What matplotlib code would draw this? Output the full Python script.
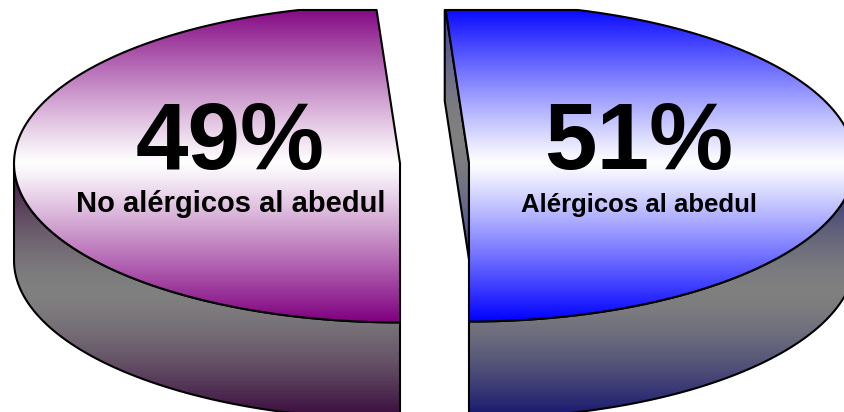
import numpy as np
import matplotlib
matplotlib.use("Agg")
import matplotlib.pyplot as plt
from matplotlib.patches import Polygon
from matplotlib import font_manager

# ---- data -------------------------------------------------------------
labels = ["No alérgicos al abedul", "Alérgicos al abedul"]
shares = [49, 51]
face_colors = ["#800080", "#0000ff"]     # top face gradient edge colour
wall_colors = ["#38063c", "#141470"]     # side wall gradient edge colour
cut_colors = ["#38063c", "#3a3c96"]      # radial cut face gradient edge colour
pct_sizes = [68, 68]
label_sizes = [21, 18.5]

# ---- layout (pixel units) --------------------------------------------
W, H = 845, 412
CX, CY = 434.5, 163.0      # pie centre
RX, RY = 386.0, 159.0      # projected radii of the top ellipse
DEPTH = 97.0               # projected thickness
EXPLODE = 34.5             # slice separation
START = 180.0              # first slice starts at 6 o'clock, clockwise
CLIP_TOP = 10.0            # plot-area top edge

installed = {f.name for f in font_manager.fontManager.ttflist}
narrow = next((n for n in ["Liberation Sans Narrow", "DejaVu Sans Condensed",
                           "Liberation Sans"] if n in installed), "DejaVu Sans")
pct_families = ["Liberation Sans", narrow]
label_families = ["Liberation Sans", "Liberation Sans"]

fig = plt.figure(figsize=(W / 100, H / 100), dpi=100)
ax = fig.add_axes([0, 0, 1, 1])
ax.set_xlim(0, W)
ax.set_ylim(H, 0)
ax.axis("off")


def rim(cx, cy, a0, a1, n=240, dy=0.0):
    t = np.radians(np.linspace(a0, a1, n))
    return np.column_stack([cx + RX * np.sin(t), cy + dy - RY * np.cos(t)])


def clip_top(pts, ytop=CLIP_TOP):
    out = []
    n = len(pts)
    for i in range(n):
        p, q = pts[i], pts[(i + 1) % n]
        pin, qin = p[1] >= ytop, q[1] >= ytop
        if pin:
            out.append(p)
        if pin != qin:
            t = (ytop - p[1]) / (q[1] - p[1])
            out.append(p + t * (q - p))
    return np.array(out)


def hex_rgb(c):
    return np.array(matplotlib.colors.to_rgb(c))


def gradient_shape(pts, edge, center, y0, y1, power, z):
    """Fill a polygon with an Excel-style 'from centre' vertical gradient."""
    ys = np.linspace(y0, y1, 256)
    mid, half = (y0 + y1) / 2, (y1 - y0) / 2
    w = (np.abs(ys - mid) / half) ** power
    cols = (1 - w)[:, None] * hex_rgb(center) + w[:, None] * hex_rgb(edge)
    img = np.repeat(cols[:, None, :], 2, axis=1)
    x0, x1 = pts[:, 0].min() - 2, pts[:, 0].max() + 2
    im = ax.imshow(img, extent=(x0, x1, y1, y0), origin="upper",
                   aspect="auto", interpolation="bilinear", zorder=z)
    clip = Polygon(pts, closed=True, transform=ax.transData)
    im.set_clip_path(clip)
    ax.add_patch(Polygon(pts, closed=True, fill=False, edgecolor="black",
                         linewidth=1.5, joinstyle="round", zorder=z + 0.5))


total = float(sum(shares))
a = START
for i, share in enumerate(shares):
    s, e = a, a + 360.0 * share / total
    a = e
    m = np.radians((s + e) / 2)
    cx = CX + EXPLODE * np.sin(m)
    cy = CY - EXPLODE * np.cos(m) * RY / RX
    z = 2 + i * 10

    # outer side wall: the part facing the viewer (between 3 and 9 o'clock)
    for k in (-360, 0, 360):
        lo, hi = max(s, 90 + k), min(e, 270 + k)
        if hi > lo:
            top = rim(cx, cy, lo, hi)
            bot = rim(cx, cy, hi, lo, dy=DEPTH)
            wall = clip_top(np.vstack([top, bot]))
            gradient_shape(wall, wall_colors[i], "#808080",
                           cy, cy + RY + DEPTH, 1.6, z)

    # radial cut faces turned towards the viewer
    for ang, normal in ((s, s - 90), (e, e + 90)):
        if np.cos(np.radians(normal)) < -1e-6:
            p = rim(cx, cy, ang, ang, n=1)[0]
            c = np.array([cx, cy])
            cut = clip_top(np.array([c, p, p + [0, DEPTH], c + [0, DEPTH]]))
            gradient_shape(cut, cut_colors[i], "#808080",
                           CLIP_TOP, cy + DEPTH, 1.8, z + 1)

    # top face
    face = clip_top(np.vstack([[cx, cy], rim(cx, cy, s, e)]))
    gradient_shape(face, face_colors[i], "#ffffff", cy - RY, cy + RY, 1.1, z + 2)

    # labels
    lx = cx + 0.44 * RX * np.sin(m)
    ax.text(lx, cy + 6, f"{share}%", fontsize=pct_sizes[i], fontweight="bold",
            family=pct_families[i], ha="center", va="baseline", zorder=z + 5)
    ax.text(lx, cy + 49, labels[i], fontsize=label_sizes[i], fontweight="bold",
            family=label_families[i], ha="center", va="baseline", zorder=z + 5)

fig.savefig("out.png", dpi=100)
